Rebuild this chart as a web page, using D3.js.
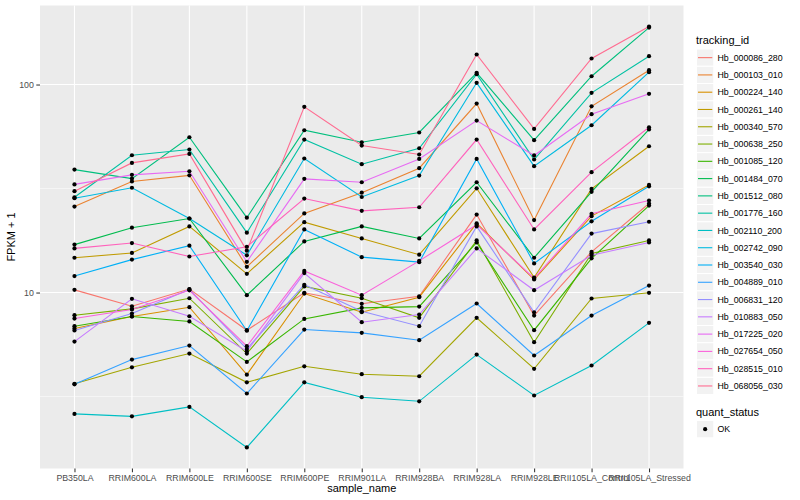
<!DOCTYPE html>
<html><head><meta charset="utf-8">
<script src="https://cdn.jsdelivr.net/npm/d3@7"></script>
<style>body{margin:0;background:#fff}text{font-family:"Liberation Sans",Arial,sans-serif}</style>
</head><body><svg id="c" width="800" height="500"></svg>
<script>
const categories = ["PB350LA","RRIM600LA","RRIM600LE","RRIM600SE","RRIM600PE","RRIM901LA","RRIM928BA","RRIM928LA","RRIM928LE","RRII105LA_Control","RRII105LA_Stressed"];
const trackingIds = ["Hb_000086_280","Hb_000103_010","Hb_000224_140","Hb_000261_140","Hb_000340_570","Hb_000638_250","Hb_001085_120","Hb_001484_070","Hb_001512_080","Hb_001776_160","Hb_002110_200","Hb_002742_090","Hb_003540_030","Hb_004889_010","Hb_006831_120","Hb_010883_050","Hb_017225_020","Hb_027654_050","Hb_028515_010","Hb_068056_030"];
const hb_000086_280 = [10.3, 8.59, 10.4, 6.59, 9.97, 8.83, 9.6, 23.7, 7.75, 15.7, 26.8];
const hb_000103_010 = [25.9, 34.2, 36.6, 13.3, 24.0, 30.2, 39.6, 81.0, 22.3, 78.6, 117.2];
const hb_000224_140 = [6.71, 7.67, 8.50, 4.03, 9.89, 8.04, 9.5, 21.5, 11.55, 23.3, 32.9];
const hb_000261_140 = [14.7, 15.5, 20.8, 12.3, 21.8, 18.2, 15.2, 31.7, 11.8, 31.5, 50.5];
const hb_000340_570 = [3.64, 4.37, 5.09, 3.70, 4.42, 4.05, 3.96, 7.56, 4.30, 9.36, 9.97];
const hb_000638_250 = [7.78, 8.35, 9.39, 5.09, 10.7, 9.39, 7.56, 17.8, 5.77, 15.4, 17.8];
const hb_001085_120 = [6.89, 7.67, 7.26, 4.64, 7.47, 8.44, 8.56, 17.4, 6.59, 14.6, 26.2];
const hb_001484_070 = [17.0, 20.5, 22.7, 9.71, 17.6, 20.8, 18.2, 33.9, 14.7, 30.5, 60.8];
const hb_001512_080 = [39.0, 35.3, 55.8, 22.9, 60.3, 52.8, 58.8, 113.8, 54.0, 109.6, 187.9];
const hb_001776_160 = [28.7, 45.7, 48.7, 19.4, 54.4, 41.4, 49.4, 112.1, 43.6, 91.2, 136.8];
const hb_002110_200 = [2.61, 2.54, 2.82, 1.80, 3.70, 3.14, 3.00, 5.03, 3.20, 4.46, 7.15];
const hb_002742_090 = [28.4, 31.9, 22.7, 15.1, 44.1, 28.8, 36.5, 101.9, 40.5, 63.7, 114.6];
const hb_003540_030 = [12.0, 14.4, 16.8, 6.55, 20.1, 14.8, 14.0, 43.9, 13.8, 22.0, 32.4];
const hb_004889_010 = [3.62, 4.76, 5.56, 3.27, 6.64, 6.40, 5.90, 8.86, 4.98, 7.75, 10.8];
const hb_006831_120 = [6.57, 7.93, 10.35, 5.36, 10.9, 8.13, 6.89, 20.8, 8.04, 19.2, 21.9];
const hb_010883_050 = [5.81, 9.33, 7.69, 5.22, 12.4, 7.20, 7.84, 16.3, 10.26, 15.1, 17.4];
const hb_017225_020 = [33.1, 36.8, 38.3, 14.05, 35.2, 33.9, 43.9, 67.1, 45.6, 72.0, 90.2];
const hb_027654_050 = [7.50, 8.29, 10.25, 5.52, 12.7, 9.71, 14.2, 21.2, 11.7, 23.9, 27.7];
const hb_028515_010 = [16.3, 17.3, 14.9, 16.6, 28.3, 24.7, 25.7, 54.4, 20.1, 37.9, 62.3];
const hb_068056_030 = [30.7, 42.0, 46.4, 15.9, 78.1, 50.9, 46.1, 139.4, 61.2, 133.4, 190.0];
const seriesValues = [hb_000086_280,hb_000103_010,hb_000224_140,hb_000261_140,hb_000340_570,hb_000638_250,hb_001085_120,hb_001484_070,hb_001512_080,hb_001776_160,hb_002110_200,hb_002742_090,hb_003540_030,hb_004889_010,hb_006831_120,hb_010883_050,hb_017225_020,hb_027654_050,hb_028515_010,hb_068056_030];
const palette = ["#F8766D","#EA8331","#D89000","#C09B00","#A3A500","#7CAE00","#39B600","#00BB4E","#00BF7D","#00C1A3","#00BFC4","#00BAE0","#00B0F6","#35A2FF","#9590FF","#C77CFF","#E76BF3","#FA62DB","#FF62BC","#FF6C91"];
const statusLevels = ["OK"];
const yMajorTicks = [10, 100];

const series = trackingIds.map((id,i)=>({id, color: palette[i], values: seriesValues[i].map((v,j)=>({cat: categories[j], v}))}));

const svg = d3.select("#c");
const L = 40, R = 683.5, T = 5.5, B = 468.5;

const allV = seriesValues.flat();
const lmin = Math.log10(d3.min(allV)), lmax = Math.log10(d3.max(allV));
const ex = (lmax - lmin) * 0.05;
const y = d3.scaleLog().domain([Math.pow(10, lmin - ex), Math.pow(10, lmax + ex)]).range([B, T]);
const x = d3.scalePoint().domain(categories).range([L, R]).padding(0.6);

svg.append("rect").attr("x", L).attr("y", T).attr("width", R - L).attr("height", B - T).attr("fill", "#EBEBEB");

// minor grid
const dom = y.domain().map(Math.log10);
const minor = [];
for (let e = Math.floor(dom[0]) - 1; e <= Math.ceil(dom[1]); e++) { const m = Math.pow(10, e + 0.5); if (m > y.domain()[0] && m < y.domain()[1]) minor.push(m); }
svg.append("g").selectAll("line").data(minor).join("line")
  .attr("x1", L).attr("x2", R).attr("y1", d => y(d)).attr("y2", d => y(d))
  .attr("stroke", "#fff").attr("stroke-width", 0.55);
svg.append("g").selectAll("line").data(yMajorTicks).join("line")
  .attr("x1", L).attr("x2", R).attr("y1", d => y(d)).attr("y2", d => y(d))
  .attr("stroke", "#fff").attr("stroke-width", 1.1);
svg.append("g").selectAll("line").data(categories).join("line")
  .attr("x1", d => x(d)).attr("x2", d => x(d)).attr("y1", T).attr("y2", B)
  .attr("stroke", "#fff").attr("stroke-width", 1.1);

// lines
const line = d3.line().x(d => x(d.cat)).y(d => y(d.v));
svg.append("g").selectAll("path").data(series).join("path")
  .attr("d", d => line(d.values)).attr("fill", "none")
  .attr("stroke", d => d.color).attr("stroke-width", 1.1);
// points
svg.append("g").selectAll("circle").data(series.flatMap(s => s.values)).join("circle")
  .attr("cx", d => x(d.cat)).attr("cy", d => y(d.v)).attr("r", 2.1).attr("fill", "#000");

// axes
const xAxis = svg.append("g").attr("transform", `translate(0,${B})`)
  .call(d3.axisBottom(x).tickSize(3.7).tickPadding(2.5));
const yAxis = svg.append("g").attr("transform", `translate(${L},0)`)
  .call(d3.axisLeft(y).tickValues(yMajorTicks).tickFormat(d3.format("d")).tickSize(3.7).tickPadding(2.5));
[xAxis, yAxis].forEach(g => {
  g.select(".domain").remove();
  g.selectAll(".tick line").attr("stroke", "#333").attr("stroke-width", 1.05);
  g.selectAll(".tick text").attr("fill", "#4D4D4D").attr("font-size", "8.8px").attr("font-family", '"Liberation Sans",Arial,sans-serif');
});

svg.append("text").attr("x", (L + R) / 2).attr("y", 492).attr("text-anchor", "middle")
  .attr("font-size", "11px").attr("fill", "#000").text("sample_name");
svg.append("text").attr("transform", `translate(15,${(T + B) / 2}) rotate(-90)`).attr("text-anchor", "middle")
  .attr("font-size", "11px").attr("fill", "#000").text("FPKM + 1");

// legend
const lg = svg.append("g").attr("transform", "translate(696,0)");
lg.append("text").attr("x", 0).attr("y", 44).attr("font-size", "11px").text("tracking_id");
const keyH = 17.28, key0 = 49;
const keys = lg.selectAll("g.k").data(series).join("g").attr("class", "k")
  .attr("transform", (d, i) => `translate(0,${key0 + i * keyH})`);
keys.append("rect").attr("x", 0.5).attr("y", 0).attr("width", keyH).attr("height", keyH)
  .attr("fill", "#F2F2F2").attr("stroke", "#fff").attr("stroke-width", 1);
keys.append("line").attr("x1", 2).attr("x2", keyH - 1).attr("y1", keyH / 2).attr("y2", keyH / 2)
  .attr("stroke", d => d.color).attr("stroke-width", 1.1);
keys.append("text").attr("x", 21.5).attr("y", keyH / 2 + 3.1).attr("font-size", "8.8px").text(d => d.id);

lg.append("text").attr("x", 0).attr("y", 416).attr("font-size", "11px").text("quant_status");
const sk = lg.selectAll("g.s").data(statusLevels).join("g").attr("class", "s")
  .attr("transform", (d, i) => `translate(0,${420.5 + i * keyH})`);
sk.append("rect").attr("x", 0.5).attr("y", 0).attr("width", keyH).attr("height", keyH)
  .attr("fill", "#F2F2F2").attr("stroke", "#fff").attr("stroke-width", 1);
sk.append("circle").attr("cx", keyH / 2 + 0.5).attr("cy", keyH / 2).attr("r", 2.1).attr("fill", "#000");
sk.append("text").attr("x", 21.5).attr("y", keyH / 2 + 3.1).attr("font-size", "8.8px").text(d => d);
</script></body></html>
